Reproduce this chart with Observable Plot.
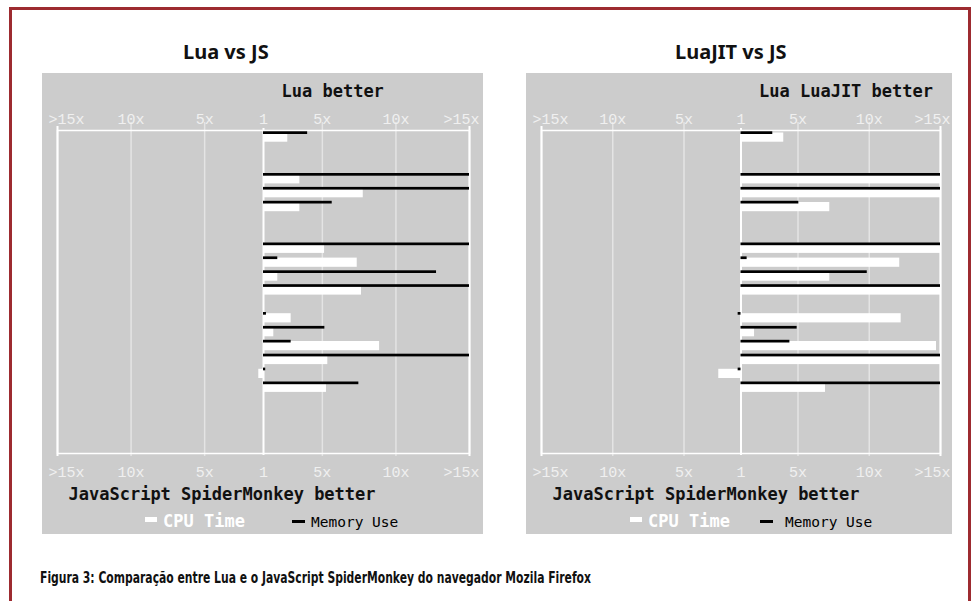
<!DOCTYPE html>
<html><head><meta charset="utf-8">
<script src="https://cdn.jsdelivr.net/npm/d3@7"></script>
<script src="https://cdn.jsdelivr.net/npm/@observablehq/plot@0.6"></script>
<style>
html,body{margin:0;padding:0;background:#fff;}
#page{position:relative;width:971px;height:601px;overflow:hidden;background:#fff;}
#frame{position:absolute;left:9px;top:7px;width:956px;height:700px;border:3px solid #9d2b30;border-bottom:none;}
.title{position:absolute;top:42px;font-family:"Noto Sans";font-weight:bold;font-size:20px;line-height:20px;color:#111;white-space:nowrap;}
.panel{position:absolute;top:73px;background:#cccccc;}
.panel svg{display:block;}
.sw{position:absolute;}
.lg{position:absolute;white-space:nowrap;}
.cpu{font-family:"DejaVu Sans Mono";font-weight:bold;font-size:17px;line-height:17px;color:#fff;top:440px;}
.mem{font-family:"DejaVu Sans Mono";font-size:14.5px;line-height:15px;color:#000;top:441.5px;}
#caption{position:absolute;left:40px;top:571px;font-family:"DejaVu Sans Condensed";font-weight:bold;font-size:15px;line-height:15px;color:#111;white-space:nowrap;transform-origin:0 50%;}
</style>
</head><body>
<div id="page">
  <div id="frame"></div>
  <div class="title" style="left:183px">Lua vs JS</div>
  <div class="title" style="left:675px">LuaJIT vs JS</div>
  <div class="panel" id="p1" style="left:42px;width:441px;height:461px"></div>
  <div class="panel" id="p2" style="left:526px;width:426px;height:461px"></div>
  <div id="caption">Figura 3: Comparação entre Lua e o JavaScript SpiderMonkey do navegador Mozila Firefox</div>
</div>
<script>
// Ratios: positive = Lua/LuaJIT better by that factor, negative = JavaScript better. 15 = ">15x". null = empty row.
const rowCount = 23;
const luaCpu = [2.65, null, null, 3.47, 7.78, 3.47, null, null, 5.15, 7.37, 1.97, 7.66, null, 2.88, 1.7, 8.89, 5.37, -1.32, 5.28, null, null, null, null];
const luaMem = [4.0, null, null, 15, 15, 5.67, null, null, 15, 1.97, 12.76, 15, null, 1.2, 5.17, 2.88, 15, 1.15, 7.48, null, null, null, null];
const jitCpu = [4.0, null, null, 15, 15, 7.23, null, null, 15, 12.14, 7.23, 15, null, 12.24, 1.95, 14.72, 15, -2.56, 6.93, null, null, null, null];
const jitMem = [3.23, null, null, 15, 15, 5.06, null, null, 15, 1.43, 9.86, 15, null, -1.2, 4.94, 4.43, 15, -1.2, 15, null, null, null, null];
const tickRatios = [-15, -10, -5, 1, 5, 10, 15];
const tickLabels = [">15x", "10x", "5x", "1", "5x", "10x", ">15x"];

const toX = r => r > 0 ? r - 1 : r + 1;

function panel(id, cpu, mem, width, mL, mR, topText, lg) {
  const rows = cpu.map((c, i) => ({row: i, cpu: c, mem: mem[i]}));
  const ticks = tickRatios.map((r, i) => ({r, label: tickLabels[i]}));
  const mid = ticks.slice(1, -1), first = [ticks[0]], last = [ticks[ticks.length - 1]];
  const tickFont = {fontFamily: "Liberation Mono", fontSize: 15, fill: "#f0f0f0", lineAnchor: "middle"};
  const labelMarks = (anchor, dy) => [
    Plot.text(mid, {x: d => toX(d.r), text: "label", frameAnchor: anchor, dy, ...tickFont}),
    Plot.text(first, {x: d => toX(d.r), text: "label", frameAnchor: anchor, dy, dx: -9, textAnchor: "start", ...tickFont}),
    Plot.text(last, {x: d => toX(d.r), text: "label", frameAnchor: anchor, dy, dx: 10, textAnchor: "end", ...tickFont})
  ];
  const chart = Plot.plot({
    width, height: 461,
    marginTop: 57, marginBottom: 81, marginLeft: mL, marginRight: mR,
    style: {background: "#cccccc", overflow: "visible"},
    x: {domain: [-14, 14], axis: null},
    y: {type: "band", domain: d3.range(rowCount), range: [57, 57 + rowCount * 13.9], padding: 0, round: false, axis: null},
    marks: [
      Plot.ruleX(ticks.filter(d => Math.abs(d.r) !== 15 && d.r !== 1), {x: d => toX(d.r), stroke: "#e4e4e4", strokeWidth: 1.5, insetTop: -8, insetBottom: -3}),
      Plot.frame({stroke: "#ffffff", strokeWidth: 1.5}),
      Plot.ruleX(ticks.filter(d => Math.abs(d.r) === 15), {x: d => toX(d.r), stroke: "#ffffff", strokeWidth: 2, insetTop: -4, insetBottom: -3}),
      Plot.ruleX(ticks.filter(d => d.r === 1), {x: d => toX(d.r), stroke: "#ffffff", strokeWidth: 2, insetTop: -2, insetBottom: -2}),
      Plot.barX(rows.filter(d => d.cpu != null), {x1: d => 0, x2: d => toX(d.cpu), y: "row", fill: "#ffffff", insetTop: 2.5, insetBottom: 2.2}),
      Plot.barX(rows.filter(d => d.mem != null), {x1: d => 0, x2: d => toX(d.mem), y: "row", fill: "#000000", insetTop: 1.3, insetBottom: 9.9}),
      ...labelMarks("top", -11.5),
      ...labelMarks("bottom", 18.5),
      Plot.text([topText], {x: d => 0, text: d => d, frameAnchor: "top", lineAnchor: "middle", dy: -39, dx: 18, textAnchor: "start", fontFamily: "DejaVu Sans Mono", fontWeight: "bold", fontSize: 17, fill: "#111"}),
      Plot.text(["JavaScript SpiderMonkey better"], {x: d => -14, text: d => d, frameAnchor: "bottom", lineAnchor: "middle", dy: 41, dx: 11, textAnchor: "start", fontFamily: "DejaVu Sans Mono", fontWeight: "bold", fontSize: 17, fill: "#111"})
    ]
  });
  const el = document.getElementById(id);
  el.appendChild(chart);
  el.insertAdjacentHTML("beforeend",
    `<div class="sw" style="left:${lg[0]}px;top:444px;width:12px;height:5px;background:#fff"></div>` +
    `<div class="lg cpu" style="left:${lg[1]}px">CPU Time</div>` +
    `<div class="sw" style="left:${lg[2]}px;top:447px;width:13px;height:3px;background:#000"></div>` +
    `<div class="lg mem" style="left:${lg[3]}px">Memory Use</div>`);
}

panel("p1", luaCpu, luaMem, 441, 15, 14, "Lua better", [103, 121, 250, 269]);
panel("p2", jitCpu, jitMem, 426, 15, 12, "Lua LuaJIT better", [104, 122, 234, 259]);

const cap = document.getElementById("caption");
const w = cap.getBoundingClientRect().width;
cap.style.transform = `scaleX(${551 / w})`;
</script>
</body></html>
